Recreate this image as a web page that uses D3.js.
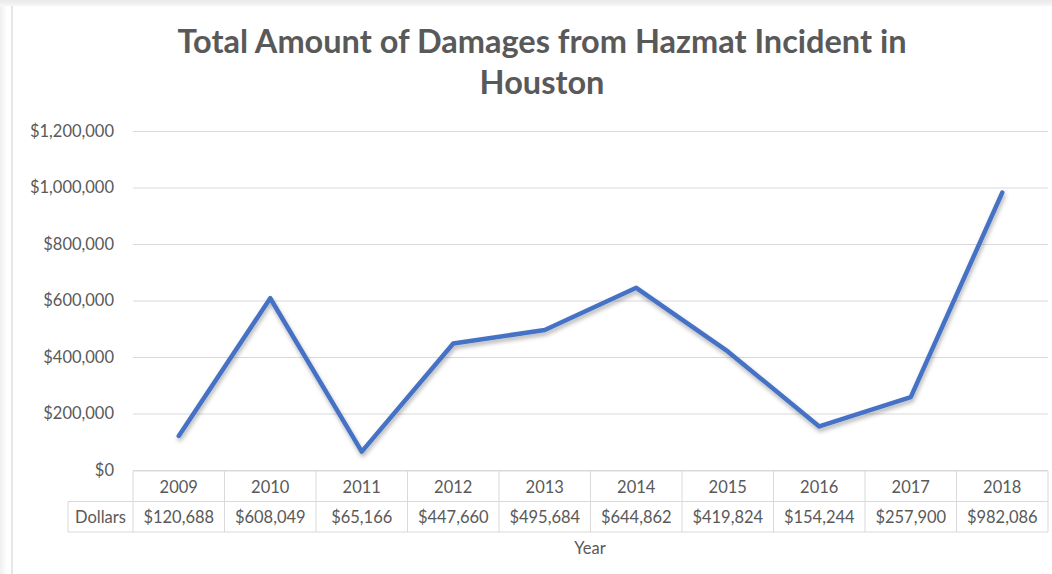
<!DOCTYPE html>
<html>
<head>
<meta charset="utf-8">
<script src="https://cdn.jsdelivr.net/npm/d3@7"></script>
<style>
body { margin: 0; background: #fff; }
svg text { font-family: Lato, "Open Sans", sans-serif; fill: #595959; }
</style>
</head>
<body>
<div id="chart"></div>
<script>
var years = ["2009", "2010", "2011", "2012", "2013", "2014", "2015", "2016", "2017", "2018"];
var dollars = [120688, 608049, 65166, 447660, 495684, 644862, 419824, 154244, 257900, 982086];
var yTicks = [0, 200000, 400000, 600000, 800000, 1000000, 1200000];
var seriesName = "Dollars";

var W = 1052, H = 574;
var plotLeft = 133, plotRight = 1048, plotTop = 131, plotBottom = 470;

var svg = d3.select("#chart").append("svg")
	.attr("width", W)
	.attr("height", H);

// frame shadow like the screenshot
var defs = svg.append("defs");
var g1 = defs.append("linearGradient").attr("id", "topfade").attr("x1", 0).attr("y1", 0).attr("x2", 0).attr("y2", 1);
g1.append("stop").attr("offset", "0%").attr("stop-color", "#e9e9e9");
g1.append("stop").attr("offset", "100%").attr("stop-color", "#f7f7f7");
var g2 = defs.append("linearGradient").attr("id", "leftfade").attr("x1", 0).attr("y1", 0).attr("x2", 1).attr("y2", 0);
g2.append("stop").attr("offset", "0%").attr("stop-color", "#f0f0f0");
g2.append("stop").attr("offset", "100%").attr("stop-color", "#fcfcfc");
var f = defs.append("filter").attr("id", "shadow").attr("x", "-5%").attr("y", "-5%").attr("width", "110%").attr("height", "120%");
f.append("feDropShadow").attr("dx", 1).attr("dy", 3).attr("stdDeviation", 2).attr("flood-color", "#000").attr("flood-opacity", 0.3);

svg.append("rect").attr("x", 0).attr("y", 0).attr("width", 6).attr("height", H).attr("fill", "url(#leftfade)");
svg.append("rect").attr("x", 0).attr("y", 0).attr("width", W).attr("height", 6).attr("fill", "url(#topfade)");
svg.append("rect").attr("x", 11).attr("y", 6).attr("width", 2).attr("height", H - 6).attr("fill", "#e6e6e6");

// title
svg.append("text")
	.attr("x", 542).attr("y", 53)
	.attr("text-anchor", "middle")
	.style("font-size", "32.5px").style("font-weight", "bold")
	.text("Total Amount of Damages from Hazmat Incident in");
svg.append("text")
	.attr("x", 542).attr("y", 94)
	.attr("text-anchor", "middle")
	.style("font-size", "32.5px").style("font-weight", "bold")
	.text("Houston");

var x = d3.scaleBand().domain(years).range([plotLeft, plotRight]);
var y = d3.scaleLinear().domain([0, 1200000]).range([plotBottom, plotTop]);
var fmt = d3.format("$,");

// gridlines + y labels
var yAxis = svg.append("g")
	.attr("transform", "translate(" + plotLeft + ",0)")
	.call(d3.axisLeft(y).tickValues(yTicks).tickFormat(fmt).tickSize(-(plotRight - plotLeft)).tickPadding(19));
yAxis.select(".domain").remove();
yAxis.selectAll(".tick line").attr("stroke", "#d9d9d9").attr("stroke-width", 1);
yAxis.selectAll(".tick text").style("font-size", "16.5px").attr("fill", "#595959");

// line
var line = d3.line()
	.x(function(d, i){ return x(years[i]) + x.bandwidth()/2; })
	.y(function(d){ return y(d); });
svg.append("path")
	.datum(dollars)
	.attr("d", line)
	.attr("fill", "none")
	.attr("stroke", "#4472c4")
	.attr("stroke-width", 4.5)
	.attr("stroke-linejoin", "round")
	.attr("stroke-linecap", "round")
	.attr("filter", "url(#shadow)");

// data table
var rowH = 30.5, tTop = plotBottom + 1, nameLeft = 68;
var tbl = svg.append("g").attr("class", "table");
var bc = "#d9d9d9";
// horizontal lines
tbl.append("line").attr("x1", plotLeft).attr("x2", plotRight).attr("y1", tTop).attr("y2", tTop).attr("stroke", bc);
tbl.append("line").attr("x1", nameLeft).attr("x2", plotRight).attr("y1", tTop + rowH).attr("y2", tTop + rowH).attr("stroke", bc);
tbl.append("line").attr("x1", nameLeft).attr("x2", plotRight).attr("y1", tTop + 2*rowH).attr("y2", tTop + 2*rowH).attr("stroke", bc);
// vertical lines
tbl.append("line").attr("x1", nameLeft).attr("x2", nameLeft).attr("y1", tTop + rowH).attr("y2", tTop + 2*rowH).attr("stroke", bc);
years.forEach(function(yr){
	tbl.append("line").attr("x1", x(yr)).attr("x2", x(yr)).attr("y1", tTop).attr("y2", tTop + 2*rowH).attr("stroke", bc);
});
tbl.append("line").attr("x1", plotRight).attr("x2", plotRight).attr("y1", tTop).attr("y2", tTop + 2*rowH).attr("stroke", bc);

tbl.selectAll("text.yr").data(years).enter().append("text")
	.attr("class", "yr")
	.attr("x", function(d){ return x(d) + x.bandwidth()/2; })
	.attr("y", tTop + 21.5)
	.attr("text-anchor", "middle")
	.style("font-size", "16.5px")
	.text(function(d){ return d; });
tbl.selectAll("text.val").data(dollars).enter().append("text")
	.attr("class", "val")
	.attr("x", function(d, i){ return x(years[i]) + x.bandwidth()/2; })
	.attr("y", tTop + rowH + 21.5)
	.attr("text-anchor", "middle")
	.style("font-size", "16.5px")
	.text(function(d){ return fmt(d); });
tbl.append("text")
	.attr("x", (nameLeft + plotLeft)/2).attr("y", tTop + rowH + 21.5)
	.attr("text-anchor", "middle")
	.style("font-size", "16.5px")
	.text(seriesName);

// x axis title
svg.append("text")
	.attr("x", 590).attr("y", 554)
	.attr("text-anchor", "middle")
	.style("font-size", "16.5px")
	.text("Year");
</script>
</body>
</html>
